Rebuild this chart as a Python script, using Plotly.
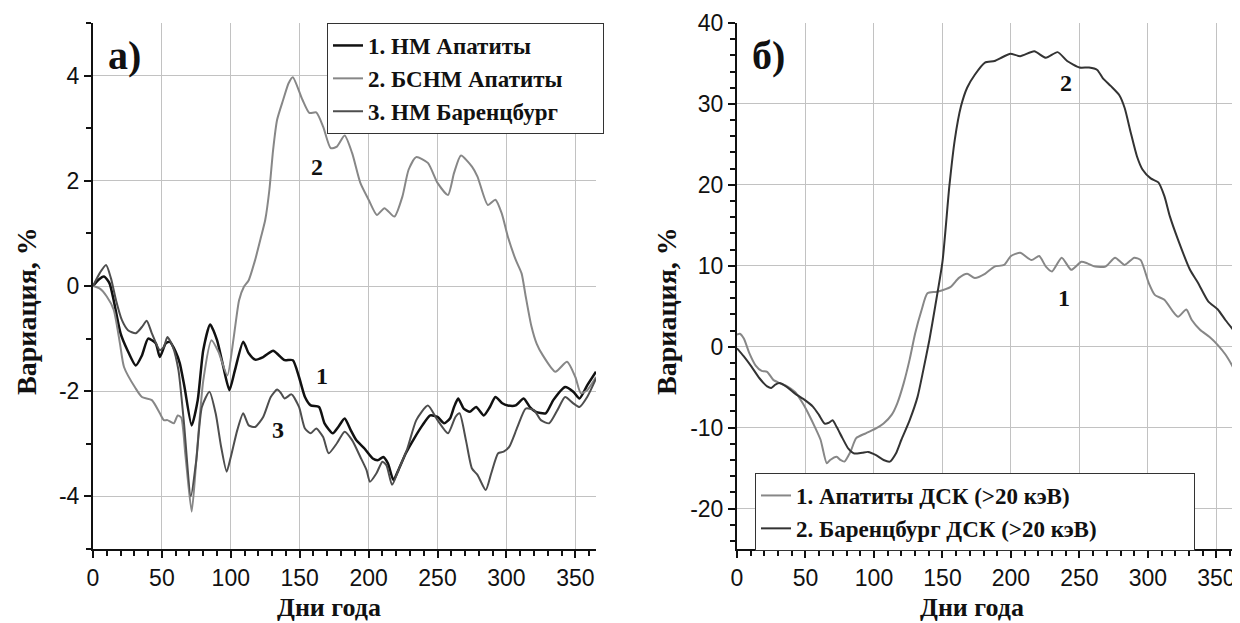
import plotly.graph_objects as go

# ---------------- Panel a) : neutron monitors ----------------
days_nm_apatity = [0, 4, 8, 12, 15, 20, 25, 31, 35.5, 40, 45.5, 48.5, 52.8, 55.7, 60, 63, 66.4, 71.6, 76, 80,
                   85, 90, 94.6, 99, 103, 109, 113, 117.7, 123.5, 130.7, 135, 139, 145, 149.5, 153.8, 158, 164, 168, 174, 178,
                   182.6, 187, 191, 197, 203, 207, 210.6, 214, 218, 221.6, 227, 233, 239, 244.7, 250, 254.8, 259, 262, 265, 269,
                   273.5, 278, 283.6, 288, 292, 297, 301, 306.7, 312.5, 317, 321, 328.5, 334, 342.6, 348.5, 353, 358.6, 365]
vals_nm_apatity = [0, 0.12, 0.18, 0.05, -0.27, -0.90, -1.22, -1.51, -1.32, -1.0, -1.09, -1.35, -1.09, -1.06, -1.25, -1.47, -1.92, -2.65, -2.17, -1.22,
                   -0.73, -1.03, -1.54, -1.98, -1.60, -1.06, -1.28, -1.40, -1.35, -1.23, -1.32, -1.41, -1.41, -1.73, -2.11, -2.27, -2.30, -2.61, -2.80, -2.68,
                   -2.52, -2.74, -2.93, -3.09, -3.28, -3.31, -3.25, -3.37, -3.69, -3.50, -3.18, -2.90, -2.65, -2.46, -2.49, -2.61, -2.52, -2.30, -2.14, -2.33,
                   -2.39, -2.30, -2.46, -2.30, -2.11, -2.23, -2.27, -2.27, -2.14, -2.30, -2.39, -2.42, -2.17, -1.92, -2.01, -2.14, -1.89, -1.63]

days_bsnm_apatity = [0, 5, 10, 15, 19.6, 22.5, 31, 35.5, 42.7, 48.5, 51.4, 54, 58.6, 61.5, 64, 67, 71.6, 75, 80, 86,
                     91, 97.5, 102, 106, 109.6, 113, 117.7, 122, 125, 128, 130.7, 133.6, 138, 142, 145, 152, 157, 162, 167, 172.5,
                     177, 182.6, 188, 194, 200, 206, 211.5, 218.7, 224.5, 229, 234.5, 243, 250, 257.6, 262, 267, 275, 279, 286.5, 292,
                     296.6, 301, 306.7, 311, 314, 318, 322, 326, 335.5, 344, 350, 354, 358.6, 365]
vals_bsnm_apatity = [0, -0.05, -0.2, -0.45, -1.1, -1.54, -1.95, -2.11, -2.17, -2.42, -2.55, -2.55, -2.61, -2.46, -2.5, -3.2, -4.29, -3.3, -1.8, -1.03,
                     -1.25, -1.70, -1.0, -0.27, -0.01, 0.11, 0.50, 0.94, 1.26, 1.83, 2.59, 3.16, 3.54, 3.86, 3.97, 3.54, 3.29, 3.30, 3.03, 2.62,
                     2.65, 2.86, 2.53, 1.96, 1.64, 1.35, 1.48, 1.32, 1.70, 2.21, 2.45, 2.34, 1.96, 1.73, 2.15, 2.48, 2.27, 2.08, 1.54, 1.64,
                     1.38, 0.94, 0.50, 0.24, -0.2, -0.75, -1.1, -1.3, -1.63, -1.44, -1.73, -2.04, -1.98, -1.73]

days_nm_barentsburg = [0, 5, 9.5, 13, 16.7, 21, 25.4, 31, 35.5, 39, 42.7, 48.5, 51.4, 54, 58, 62, 66, 71, 75, 79,
                       84.5, 89, 93, 97, 100, 104.7, 109, 113, 117.7, 123.5, 129, 133.6, 136.5, 139, 144, 149.5, 153.8, 158, 162, 167,
                       171, 177, 182.6, 188, 194, 198.5, 201, 205.7, 210, 213, 217, 221.6, 228, 234.6, 243, 250, 257.6, 263, 266, 270.6,
                       275, 279, 285, 289, 294, 298, 302, 308, 314, 320, 325, 331, 337, 342.6, 348.5, 353, 358.6, 365]
vals_nm_barentsburg = [0, 0.25, 0.40, 0.15, -0.27, -0.65, -0.84, -0.90, -0.78, -0.66, -0.9, -1.22, -1.16, -0.97, -1.16, -1.6, -2.6, -4.0, -3.3, -2.3,
                       -2.01, -2.42, -3.06, -3.53, -3.25, -2.74, -2.42, -2.65, -2.68, -2.49, -2.11, -1.97, -2.04, -2.14, -2.06, -2.30, -2.71, -2.80, -2.71, -2.87,
                       -3.18, -2.99, -2.77, -2.93, -3.25, -3.50, -3.72, -3.56, -3.34, -3.41, -3.78, -3.50, -3.1, -2.55, -2.27, -2.55, -2.80, -2.49, -2.42, -2.93,
                       -3.47, -3.59, -3.88, -3.56, -3.18, -3.15, -3.06, -2.68, -2.33, -2.36, -2.55, -2.61, -2.36, -2.11, -2.23, -2.30, -2.11, -1.76]

# ---------------- Panel б) : dosimeters (>20 keV) ----------------
days_dsk_apatity = [0, 2, 5, 9, 13.5, 18, 22, 26.5, 31, 36.6, 42.4, 48, 52.5, 56.8, 61, 65.5, 68, 72.7, 75.5, 78.4,
                    82.8, 87, 94, 101.5, 107, 113, 117, 121.7, 126, 130, 134.7, 139, 146, 156, 162, 168, 173.6, 181, 188, 195,
                    200, 206.7, 215, 220.6, 225.5, 230, 237, 244, 251.4, 255.8, 261.5, 269, 276, 283, 290, 294.7, 300.5, 305, 312, 318,
                    322, 328, 332, 338, 345, 351, 356.7, 362, 365]
vals_dsk_apatity = [1.5, 1.6, 1.0, -0.8, -2.3, -3.0, -3.1, -4.1, -4.5, -4.9, -5.6, -7.0, -8.4, -9.9, -11.5, -14.4, -14.0, -13.6, -14.0, -14.2,
                    -13.0, -11.3, -10.7, -10.1, -9.5, -8.4, -7.0, -4.5, -1.6, 1.6, 4.5, 6.6, 6.8, 7.4, 8.5, 9.0, 8.5, 9.0, 9.9, 10.1,
                    11.2, 11.6, 10.7, 11.2, 9.9, 9.3, 11.0, 9.5, 10.5, 10.3, 9.9, 9.9, 11.0, 10.1, 11.0, 10.7, 7.9, 6.4, 5.8, 4.4,
                    3.7, 4.6, 3.3, 2.1, 1.2, 0.2, -1.0, -2.5, -3.5]

days_dsk_barentsburg = [0, 5, 10.7, 16.4, 22, 25, 28, 31, 36.6, 42.4, 49.6, 55.4, 59.7, 64, 67, 69.8, 72.7, 77, 81.3, 85.6,
                        91.4, 95.7, 101.5, 107, 111.6, 116, 120, 126, 131.8, 136, 140.4, 144.7, 150, 155, 159, 163.5, 168, 173.6, 181, 188,
                        194, 199.5, 206.7, 217, 225.5, 234, 241, 250, 257, 263, 267, 273, 279, 283, 287.5, 292, 296, 302, 307.6, 312,
                        316, 322, 330.7, 336.5, 344, 351, 356.5, 365]
vals_dsk_barentsburg = [-0.2, -1.2, -2.5, -3.9, -4.9, -5.1, -4.7, -4.5, -5.0, -5.8, -6.6, -7.4, -8.4, -9.5, -9.4, -9.1, -9.9, -11.3, -12.6, -13.2,
                        -13.1, -13.0, -13.4, -14.0, -14.2, -13.2, -11.5, -9.1, -6.2, -2.9, 0.8, 5.0, 10.5, 19.8, 25.6, 29.7, 32.0, 33.6, 35.1, 35.3,
                        35.8, 36.2, 35.9, 36.5, 35.7, 36.4, 35.3, 34.5, 34.5, 34.2, 33.2, 32.2, 31.1, 29.5, 26.4, 23.5, 21.9, 20.8, 20.3, 18.6,
                        16.1, 13.2, 9.5, 7.9, 5.6, 4.6, 3.3, 1.5]

x_tick_vals = [0, 50, 100, 150, 200, 250, 300, 350]
x_tick_text = ["0", "50", "100", "150", "200", "250", "300", "350"]
ya_tick_vals = [-4, -2, 0, 2, 4]
ya_tick_text = ["-4", "-2", "0", "2", "4"]
yb_tick_vals = [-20, -10, 0, 10, 20, 30, 40]
yb_tick_text = ["-20", "-10", "0", "10", "20", "30", "40"]

SERIF = "Liberation Serif, Times New Roman, serif"
SANS = "Liberation Sans, Arial, sans-serif"
C_BLACK = "#111111"
C_LIGHT = "#878787"
C_DARK = "#4e4e4e"
C_DARK2 = "#333333"

# The page body has an 8 px margin: the figure is 1232x615 drawn at (8, 8).
W, H, OFF = 1232, 615, 8
def PX(px):
    return (px - OFF) / W
def PY(py):
    return 1 - (py - OFF) / H

fig = go.Figure()

def add(x, y, name, color, width, xa, ya, legend, group):
    fig.add_trace(go.Scatter(x=x, y=y, name=name, mode="lines",
                             line=dict(color=color, width=width, shape="spline", smoothing=0.6),
                             xaxis=xa, yaxis=ya, legend=legend, legendgroup=group))

NB = "\u00a0"
add(days_nm_apatity, vals_nm_apatity, "1. НМ Апатиты", C_BLACK, 2.5, "x", "y", "legend", "a1")
add(days_bsnm_apatity, vals_bsnm_apatity, "2. БСНМ Апатиты" + NB * 6, C_LIGHT, 2, "x", "y", "legend", "a2")
add(days_nm_barentsburg, vals_nm_barentsburg, "3. НМ Баренцбург", C_DARK, 2, "x", "y", "legend", "a3")
add(days_dsk_apatity, vals_dsk_apatity, "1. Апатиты ДСК (>20 кэВ)", C_LIGHT, 2, "x2", "y2", "legend2", "b1")
add(days_dsk_barentsburg, vals_dsk_barentsburg, "2. Баренцбург ДСК (>20 кэВ)" + NB * 16, C_DARK2, 2, "x2", "y2", "legend2", "b2")

ydom = [PY(549), PY(23)]
TICKFONT = dict(family=SANS, size=23, color="#111")
axis_common = dict(showline=True, linewidth=2, linecolor="#111", automargin=False,
                   ticks="outside", ticklen=7, tickwidth=2, tickcolor="#111",
                   showgrid=True, gridcolor="#c2c2c2", gridwidth=1, zeroline=False,
                   tickfont=TICKFONT)

def minor(d):
    return dict(dtick=d, tick0=0, ticks="outside", ticklen=5, tickwidth=2, tickcolor="#111", showgrid=False)

fig.update_layout(
    width=W, height=H,
    margin=dict(l=0, r=0, t=0, b=0, autoexpand=False),
    paper_bgcolor="white", plot_bgcolor="white",
    xaxis=dict(axis_common, domain=[PX(93), PX(596)], anchor="y", range=[0, 365],
               tickvals=x_tick_vals, ticktext=x_tick_text, minor=minor(10)),
    xaxis2=dict(axis_common, domain=[PX(737), PX(1237)], anchor="y2", range=[0, 365],
                tickvals=x_tick_vals, ticktext=x_tick_text, minor=minor(10)),
    yaxis=dict(axis_common, domain=ydom, range=[-5, 5], anchor="x",
               tickvals=ya_tick_vals, ticktext=ya_tick_text, minor=minor(1)),
    yaxis2=dict(axis_common, domain=ydom, range=[-25, 40], anchor="x2",
                tickvals=yb_tick_vals, ticktext=yb_tick_text, minor=minor(2)),
    legend=dict(x=PX(327), y=PY(23), xanchor="left", yanchor="top",
                bgcolor="white", bordercolor="#333", borderwidth=1,
                font=dict(family=SERIF, size=23, color="#111", weight="bold"),
                tracegroupgap=0, itemwidth=30),
    legend2=dict(x=PX(755), y=PY(473), xanchor="left", yanchor="top",
                 bgcolor="white", bordercolor="#333", borderwidth=1,
                 font=dict(family=SERIF, size=23, color="#111", weight="bold"),
                 tracegroupgap=0, itemwidth=30),
    showlegend=True,
)

TITLEFONT = dict(family=SERIF, size=26, color="#111", weight="bold")
# axis titles
fig.add_annotation(text="Дни года", xref="paper", yref="paper", x=PX(329), y=PY(607),
                   xanchor="center", yanchor="middle", showarrow=False, font=TITLEFONT)
fig.add_annotation(text="Дни года", xref="paper", yref="paper", x=PX(972), y=PY(607),
                   xanchor="center", yanchor="middle", showarrow=False, font=TITLEFONT)
fig.add_annotation(text="Вариация, %", xref="paper", yref="paper", x=PX(26), y=PY(311),
                   xanchor="center", yanchor="middle", textangle=-90, showarrow=False,
                   font=dict(TITLEFONT, size=28))
fig.add_annotation(text="Вариация, %", xref="paper", yref="paper", x=PX(666), y=PY(311),
                   xanchor="center", yanchor="middle", textangle=-90, showarrow=False,
                   font=dict(TITLEFONT, size=28))

# panel labels
fig.add_annotation(text="а)", xref="paper", yref="paper", x=PX(106), y=PY(56),
                   xanchor="left", yanchor="middle", showarrow=False,
                   font=dict(family=SERIF, size=40, color="#111", weight="bold"))
fig.add_annotation(text="б)", xref="paper", yref="paper", x=PX(750), y=PY(56),
                   xanchor="left", yanchor="middle", showarrow=False,
                   font=dict(family=SERIF, size=40, color="#111", weight="bold"))

# curve numbers
ann_font = dict(family=SERIF, size=24, color="#111", weight="bold")
fig.add_annotation(text="2", x=162.4, y=2.27, xref="x", yref="y", showarrow=False, font=ann_font)
fig.add_annotation(text="1", x=166, y=-1.72, xref="x", yref="y", showarrow=False, font=ann_font)
fig.add_annotation(text="3", x=134, y=-2.74, xref="x", yref="y", showarrow=False, font=ann_font)
fig.add_annotation(text="2", x=240, y=32.6, xref="x2", yref="y2", showarrow=False, font=ann_font)
fig.add_annotation(text="1", x=238.5, y=6.0, xref="x2", yref="y2", showarrow=False, font=ann_font)

fig.write_html("out.html")
